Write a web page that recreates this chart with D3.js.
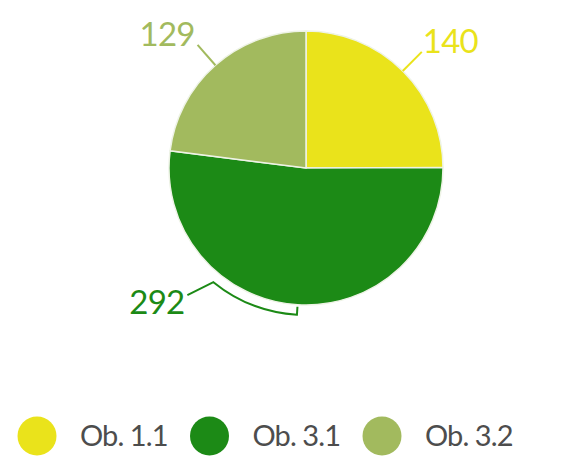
<!DOCTYPE html>
<html>
<head>
<meta charset="utf-8">
<style>
  body { margin: 0; background: #fff; }
  svg text { font-family: Lato, sans-serif; }
</style>
<script src="https://cdn.jsdelivr.net/npm/d3@7/dist/d3.min.js"></script>
</head>
<body>
<svg id="chart" width="578" height="459"></svg>
<script>
var categories = ["Ob. 1.1", "Ob. 3.1", "Ob. 3.2"];
var values = [140, 292, 129];
var colors = ["#eae31b", "#1c8a16", "#a2ba5e"];

var cx = 306, cy = 168, radius = 137;
var svg = d3.select("#chart");
var color = d3.scaleOrdinal().domain(categories).range(colors);

var pie = d3.pie().sort(null).value(function(d) { return d.value; });
var arcs = pie(categories.map(function(c, i) { return { key: c, value: values[i] }; }));
var arc = d3.arc().innerRadius(0).outerRadius(radius);

var g = svg.append("g").attr("transform", "translate(" + cx + "," + cy + ")");

g.selectAll("path.slice")
  .data(arcs)
  .enter().append("path")
  .attr("class", "slice")
  .attr("d", arc)
  .attr("fill", function(d) { return color(d.data.key); })
  .attr("stroke", "#eef3e6")
  .attr("stroke-width", 1.5);

function pt(angle, r) {
  return [Math.sin(angle) * r, -Math.cos(angle) * r];
}

// labels
arcs.forEach(function(d) {
  var mid = (d.startAngle + d.endAngle) / 2;
  var col = color(d.data.key);
  var lab = g.append("text")
    .attr("fill", col)
    .style("font-size", "33px")
    .style("letter-spacing", "-0.8px")
    .text(d.data.value);

  if (d.endAngle - d.startAngle > Math.PI) {
    // long slice: bracket hugging the rim, then leader to label
    var rr = radius + 10;
    var turn = mid + 0.62;
    var t0 = pt(mid, radius + 2), t1 = pt(mid, rr);
    var bend = pt(turn, rr);
    var path = d3.path();
    path.moveTo(t0[0], t0[1]);
    path.lineTo(t1[0], t1[1]);
    path.arc(0, 0, rr, mid - Math.PI / 2, turn - Math.PI / 2, false);
    path.lineTo(bend[0] - 26, bend[1] + 13);
    g.append("path").attr("d", path.toString())
      .attr("fill", "none").attr("stroke", col).attr("stroke-width", 2);
    lab.attr("x", bend[0] - 29).attr("y", bend[1] + 32).attr("text-anchor", "end");
  } else {
    var a = pt(mid, radius), b = pt(mid, radius + 27);
    g.append("line")
      .attr("x1", a[0]).attr("y1", a[1]).attr("x2", b[0]).attr("y2", b[1])
      .attr("stroke", col).attr("stroke-width", 2);
    var right = b[0] > 0;
    lab.attr("x", b[0] + (right ? 1 : -3))
      .attr("y", b[1] + 1)
      .attr("text-anchor", right ? "start" : "end");
  }
});

// legend
var legendX = d3.scalePoint().domain(categories).range([37, 382]);
var leg = svg.append("g").selectAll("g")
  .data(categories)
  .enter().append("g")
  .attr("transform", function(d) { return "translate(" + legendX(d) + ",436)"; });

leg.append("circle")
  .attr("r", 19.5)
  .attr("fill", function(d) { return color(d); });

leg.append("text")
  .attr("x", 43)
  .attr("y", 10)
  .attr("fill", "#4d4d4d")
  .style("font-size", "29px")
  .style("letter-spacing", "-0.9px")
  .text(function(d) { return d; });
</script>
</body>
</html>
